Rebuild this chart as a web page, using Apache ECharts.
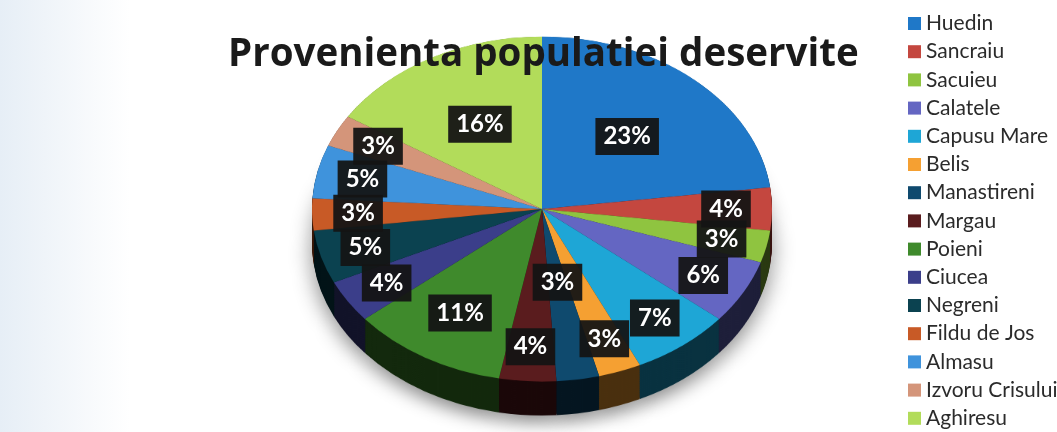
<!DOCTYPE html>
<html>
<head>
<meta charset="utf-8">
<script src="https://cdn.jsdelivr.net/npm/echarts@6/dist/echarts.min.js"></script>
<style>
  html, body { margin: 0; padding: 0; background: #fff; }
  #wrap { position: relative; width: 1057px; height: 432px; overflow: hidden;
          background: linear-gradient(to right, #e6eef6 0px, #f2f6fa 60px, #ffffff 130px); }
  #bg { position: absolute; left: 0; top: 0; width: 1057px; height: 576px;
        transform: scaleY(0.75); transform-origin: 0 0; }
  #fg { position: absolute; left: 0; top: 0; width: 1057px; height: 432px; }
</style>
</head>
<body>
<div id="wrap">
  <div id="bg"></div>
  <div id="fg"></div>
</div>
<script>
// ---- data ----
var titleText = 'Provenienta populatiei deservite';
var categories = ['Huedin', 'Sancraiu', 'Sacuieu', 'Calatele', 'Capusu Mare', 'Belis',
  'Manastireni', 'Margau', 'Poieni', 'Ciucea', 'Negreni', 'Fildu de Jos', 'Almasu',
  'Izvoru Crisului', 'Aghiresu'];
var values = [23, 4, 3, 6, 7, 3, 3, 4, 11, 4, 5, 3, 5, 3, 16];
var colors = ['#1f78c8', '#c4473f', '#8fc440', '#6466c2', '#1ea6d6', '#f5a032',
  '#0f4a6e', '#5a1c1e', '#3f8a2c', '#3b3e8a', '#0b4250', '#c85a26', '#3f93dc',
  '#d4957a', '#b2dc5a'];

// ---- layout constants ----
var K = 0.75;           // vertical squash of the 3D pie
var CX = 542, CY = 209; // screen centre of the top face
var R = 230;            // horizontal radius
var DEPTH = 34;         // side depth on screen

function darken(hex, f) {
  var n = parseInt(hex.slice(1), 16);
  var r = Math.round(((n >> 16) & 255) * f), g = Math.round(((n >> 8) & 255) * f), b = Math.round((n & 255) * f);
  return 'rgb(' + r + ',' + g + ',' + b + ')';
}

function pieData(colorFn) {
  return categories.map(function (c, i) {
    return { name: c, value: values[i], itemStyle: { color: colorFn(colors[i]) } };
  });
}

// ---- background (squashed) pie: side + top face ----
var bg = echarts.init(document.getElementById('bg'), null, { renderer: 'canvas' });
var bgSeries = [];
var cyBg = CY / K, depthBg = DEPTH / K;
for (var d = depthBg; d > 0; d -= 1.5) {
  var s = {
    type: 'pie', silent: true, animation: false, startAngle: 90, clockwise: true,
    center: [CX, cyBg + d], radius: R,
    label: { show: false }, labelLine: { show: false },
    itemStyle: { borderWidth: 0 },
    data: pieData(function (c) { return darken(c, 0.3); })
  };
  if (d === depthBg) {
    s.itemStyle = { borderWidth: 0, shadowBlur: 22, shadowColor: 'rgba(0,0,0,0.45)', shadowOffsetY: 10 };
  }
  bgSeries.push(s);
}
bgSeries.push({
  type: 'pie', silent: true, animation: false, startAngle: 90, clockwise: true,
  center: [CX, cyBg], radius: R,
  label: { show: false }, labelLine: { show: false },
  itemStyle: { borderWidth: 0 },
  data: pieData(function (c) { return c; })
});
bg.setOption({ animation: false, series: bgSeries });

// ---- foreground: title, legend, labels ----
var total = values.reduce(function (a, b) { return a + b; }, 0);

// radial placement of a label (fraction of the radius), Excel "best fit"-like
function labelFraction(i) {
  var n = values.length;
  var v = values[i], prev = values[(i - 1 + n) % n], next = values[(i + 1) % n];
  if (v >= 15) return 0.56;
  if (v >= 10) return 0.70;
  if (v < 4 && prev <= 4 && next <= 4) return 0.43; // crowded thin slice: pull inward
  return 0.80;
}

var fg = echarts.init(document.getElementById('fg'), null, { renderer: 'canvas' });
fg.setOption({
  animation: false,
  title: {
    text: titleText, left: 228, top: 36, padding: 0,
    textStyle: { fontFamily: 'Open Sans', fontWeight: 'bold', fontSize: 38.5, color: '#1a1a1a' }
  },
  legend: {
    orient: 'vertical', left: 908, top: 13, padding: 0,
    itemWidth: 13, itemHeight: 13, itemGap: 7.2,
    icon: 'rect',
    textStyle: { fontFamily: 'Lato', fontSize: 21, lineHeight: 21, color: '#2b2b2b' },
    itemStyle: { opacity: 1 },
    data: categories.map(function (c, i) { return { name: c, itemStyle: { color: colors[i], opacity: 1 } }; })
  },
  series: [{
    type: 'pie', startAngle: 90, clockwise: true,
    center: [CX, CY], radius: [0, R],
    itemStyle: { color: 'rgba(0,0,0,0)' },
    emphasis: { disabled: true },
    label: {
      show: true, position: 'inside',
      formatter: function (p) { return Math.round(p.value / total * 100) + '%'; },
      color: '#fff', fontFamily: 'Lato', fontWeight: 'bold', fontSize: 24,
      backgroundColor: 'rgba(20,20,20,0.94)', padding: [7, 8, 6, 8]
    },
    labelLine: { show: false },
    labelLayout: function (p) {
      var r = p.labelRect;
      var lx = r.x + r.width / 2, ly = r.y + r.height / 2;
      var vx = lx - CX, vy = ly - CY;
      var len = Math.sqrt(vx * vx + vy * vy) || 1;
      var rr = labelFraction(p.dataIndex) * R;
      return { x: CX + vx / len * rr, y: CY + vy / len * rr * K, align: 'center', verticalAlign: 'middle' };
    },
    data: categories.map(function (c, i) { return { name: c, value: values[i] }; })
  }]
});
</script>
</body>
</html>
